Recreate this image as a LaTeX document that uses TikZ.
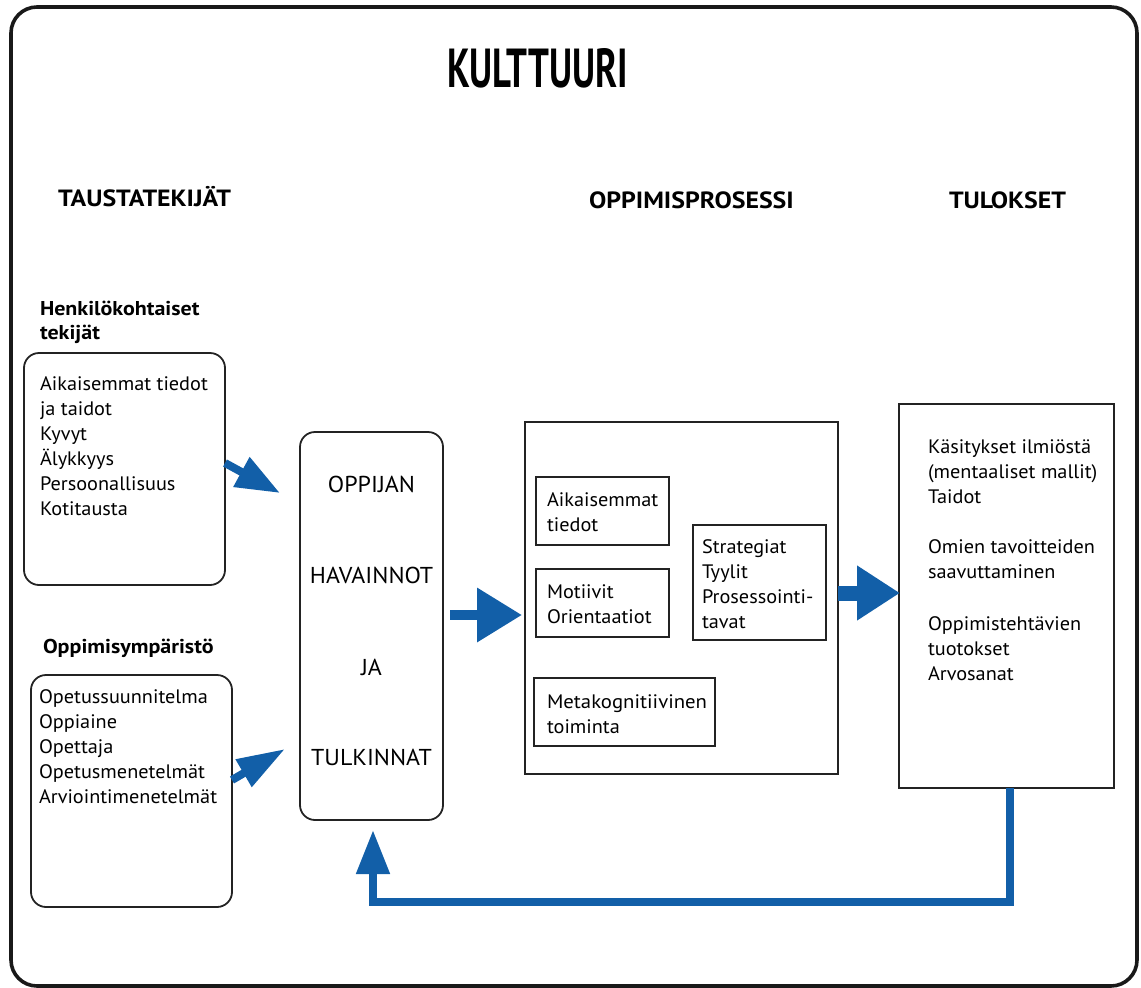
\documentclass[tikz,border=0pt]{standalone}
\usepackage{fontspec}
\setmainfont{PT Sans}
\newfontfamily\bodyfam{PT Sans}[FakeStretch=1.04]
\newfontfamily\headfam{PT Sans}[FakeStretch=1.1]
\usetikzlibrary{arrows.meta}
\definecolor{arrblue}{RGB}{18,95,168}
\definecolor{boxline}{RGB}{35,35,35}
\newcommand\mybody{\bodyfam\fontsize{19.5}{25}\selectfont}
\newcommand\mymid{\bodyfam\fontsize{23}{26}\selectfont}
\newcommand\myhead{\headfam\fontsize{23.5}{26}\selectfont\bfseries}
\newcommand\mysub{\headfam\fontsize{20}{24.5}\selectfont\bfseries}
\begin{document}
\begin{tikzpicture}[x=1pt,y=-1pt,
  every node/.style={inner sep=0pt, outer sep=0pt},
  sqbox/.style={draw=boxline, line width=1.8pt},
  rbox/.style={draw=boxline, line width=1.8pt, rounded corners=15pt},
  body/.style={font=\mybody, align=left, anchor=base west},
  midtxt/.style={font=\mymid, anchor=base},
  headtxt/.style={font=\myhead, anchor=base west},
  subtxt/.style={font=\mysub, align=left, anchor=base west},
  fat/.style={draw=arrblue, line join=miter}
]
\useasboundingbox (0,0) rectangle (1141,988);
% outer frame
\node[draw=black!90, line width=3.6pt, rounded corners=26pt,
      minimum width=1126pt, minimum height=979pt] (frame) at (574,496.5) {};
% titles
\node[anchor=base west] (title) at (447,87) {\resizebox{181pt}{39pt}{\bfseries KULTTUURI}};
\node[headtxt] (hT) at (58,206) {TAUSTATEKIJÄT};
\node[headtxt] (hO) at (589,208) {OPPIMISPROSESSI};
\node[headtxt] (hR) at (949,208) {TULOKSET};
% left side (base anchor = last line)
\node[subtxt] (sub1) at (40,339.5) {Henkilökohtaiset\\tekijät};
\node[rbox, minimum width=201pt, minimum height=232pt] (box1) at (124.5,469) {};
\node[body] (t1txt) at (40,515) {Aikaisemmat tiedot\\ja taidot\\Kyvyt\\Älykkyys\\Persoonallisuus\\Kotitausta};
\node[subtxt] (sub2) at (43,653) {Oppimisympäristö};
\node[rbox, minimum width=201pt, minimum height=232pt] (box2) at (131.5,791) {};
\node[body] (t2txt) at (39,803) {Opetussuunnitelma\\Oppiaine\\Opettaja\\Opetusmenetelmät\\Arviointimenetelmät};
% central box
\node[rbox, minimum width=143pt, minimum height=388pt] (hav) at (371.5,626) {};
\node[midtxt] (c1) at (371.5,492) {OPPIJAN};
\node[midtxt] (c2) at (371.5,583) {HAVAINNOT};
\node[midtxt] (c3) at (371.5,675) {JA};
\node[midtxt] (c4) at (371.5,765) {TULKINNAT};
% process box
\node[sqbox, minimum width=313pt, minimum height=352pt] (proc) at (681.5,598) {};
\node[sqbox, minimum width=133pt, minimum height=68pt] (pa) at (602.5,511) {};
\node[body] (patxt) at (547,531) {Aikaisemmat\\tiedot};
\node[sqbox, minimum width=133pt, minimum height=68pt] (pm) at (602.5,603) {};
\node[body] (pmtxt) at (547,623) {Motiivit\\Orientaatiot};
\node[sqbox, minimum width=133pt, minimum height=115pt] (ps) at (759.5,582.5) {};
\node[body] (pstxt) at (702,628) {Strategiat\\Tyylit\\Prosessointi-\\tavat};
\node[sqbox, minimum width=181pt, minimum height=68pt] (pk) at (624.5,712) {};
\node[body] (pktxt) at (547,733) {\resizebox{160pt}{\height}{\mybody Metakognitiivinen}\\toiminta};
% results box
\node[sqbox, minimum width=215pt, minimum height=384pt] (res) at (1006.5,596) {};
\node[body] (r1) at (928,503) {Käsitykset ilmiöstä\\(mentaaliset mallit)\\Taidot};
\node[body] (r2) at (928,578) {Omien tavoitteiden\\saavuttaminen};
\node[body] (r3) at (928,680) {Oppimistehtävien\\tuotokset\\Arvosanat};
% arrows
\coordinate (tip1) at (280,493);
\coordinate (tip2) at (285,749);
\coordinate (a3y) at (0,615);
\coordinate (a4y) at (0,593);
\coordinate (fb1) at (1010,902);
\coordinate (fb2) at (373,902);
\draw[fat, line width=8pt, -{Triangle[length=44pt,width=32pt]}] ([yshift=6pt]box1.east) -- (tip1);
\draw[fat, line width=8pt, -{Triangle[length=48pt,width=30pt]}] ([yshift=11pt]box2.east) -- (tip2);
\draw[fat, line width=10pt, -{Triangle[length=45pt,width=52pt]}] ([xshift=7pt]hav.east |- a3y) -- ([xshift=-3pt]proc.west |- a3y);
\draw[fat, line width=15pt, -{Triangle[length=43pt,width=52pt]}] (proc.east |- a4y) -- ([xshift=1pt]res.west |- a4y);
\draw[fat, line width=8pt, -{Triangle[length=44pt,width=32pt]}] (fb1 |- res.south) -- (fb1) -- (fb2) -- ([yshift=-10pt]hav.south -| fb2);
\end{tikzpicture}
\end{document}
